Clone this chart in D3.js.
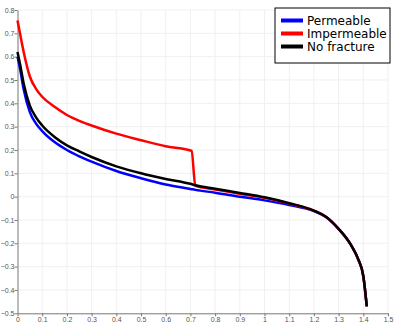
<!DOCTYPE html>
<html>
<head>
<meta charset="utf-8">
<script src="https://cdn.jsdelivr.net/npm/d3@7"></script>
<style>
  body { margin: 0; background: #fff; }
  svg { display: block; }
</style>
</head>
<body>
<div id="grafico"></div>
<script>
// datos
const seriesNames = ["Permeable", "Impermeable", "No fracture"];
const seriesColors = ["#0000ff", "#ff0000", "#000000"];

const xPermeable = [0, 0.01, 0.025, 0.05, 0.075, 0.1, 0.15, 0.2, 0.25, 0.3, 0.4, 0.5, 0.6, 0.7, 0.72, 0.8, 0.9, 1.0, 1.1, 1.2, 1.25, 1.3, 1.35, 1.38, 1.4, 1.414];
const yPermeable = [0.60, 0.55, 0.46, 0.362, 0.313, 0.281, 0.234, 0.200, 0.173, 0.150, 0.110, 0.079, 0.052, 0.033, 0.029, 0.017, 0.0, -0.016, -0.036, -0.062, -0.088, -0.138, -0.207, -0.27, -0.34, -0.47];

const xImpermeable = [0, 0.01, 0.025, 0.05, 0.075, 0.1, 0.15, 0.2, 0.25, 0.3, 0.4, 0.5, 0.6, 0.7, 0.705, 0.72, 0.8, 0.9, 1.0, 1.1, 1.2, 1.25, 1.3, 1.35, 1.38, 1.4, 1.414];
const yImpermeable = [0.755, 0.70, 0.62, 0.515, 0.462, 0.428, 0.385, 0.350, 0.325, 0.305, 0.270, 0.242, 0.216, 0.198, 0.196, 0.046, 0.031, 0.012, -0.005, -0.030, -0.060, -0.087, -0.138, -0.207, -0.27, -0.34, -0.47];

const xNoFracture = [0, 0.01, 0.025, 0.05, 0.075, 0.1, 0.15, 0.2, 0.25, 0.3, 0.4, 0.5, 0.6, 0.7, 0.72, 0.8, 0.9, 1.0, 1.1, 1.2, 1.25, 1.3, 1.35, 1.38, 1.4, 1.414];
const yNoFracture = [0.62, 0.57, 0.485, 0.39, 0.34, 0.305, 0.256, 0.220, 0.194, 0.170, 0.130, 0.100, 0.076, 0.055, 0.049, 0.034, 0.016, -0.003, -0.028, -0.060, -0.087, -0.138, -0.207, -0.27, -0.34, -0.47];

const xTicks = [0, 0.1, 0.2, 0.3, 0.4, 0.5, 0.6, 0.7, 0.8, 0.9, 1, 1.1, 1.2, 1.3, 1.4, 1.5];
const yTicks = [-0.5, -0.4, -0.3, -0.2, -0.1, 0, 0.1, 0.2, 0.3, 0.4, 0.5, 0.6, 0.7, 0.8];

const series = [
  {nombre: seriesNames[0], color: seriesColors[0], xs: xPermeable, ys: yPermeable},
  {nombre: seriesNames[1], color: seriesColors[1], xs: xImpermeable, ys: yImpermeable},
  {nombre: seriesNames[2], color: seriesColors[2], xs: xNoFracture, ys: yNoFracture}
];

const svg = d3.select("#grafico")
  .append("svg")
  .attr("width", 400)
  .attr("height", 325);

const x = d3.scaleLinear().domain([0, 1.5]).range([17.5, 388]);
const y = d3.scaleLinear().domain([-0.5, 0.8]).range([313.3, 10]);

// grilla
svg.append("g")
  .selectAll("line")
  .data(xTicks.slice(1))
  .join("line")
  .attr("x1", d => x(d)).attr("x2", d => x(d))
  .attr("y1", y(-0.5)).attr("y2", y(0.8))
  .attr("stroke", "#f0f0f0");

svg.append("g")
  .selectAll("line")
  .data(yTicks.slice(1))
  .join("line")
  .attr("x1", x(0)).attr("x2", x(1.5))
  .attr("y1", d => y(d)).attr("y2", d => y(d))
  .attr("stroke", "#f0f0f0");

// ejes
const ejeX = svg.append("g")
  .attr("transform", `translate(0,${y(-0.5)})`)
  .call(d3.axisBottom(x).tickValues(xTicks).tickSize(3).tickSizeOuter(0).tickFormat(d3.format("")));

const ejeY = svg.append("g")
  .attr("transform", `translate(${x(0)},0)`)
  .call(d3.axisLeft(y).tickValues(yTicks).tickSize(3).tickSizeOuter(0).tickFormat(d3.format("")));

[ejeX, ejeY].forEach(g => {
  g.select(".domain").attr("stroke", "#777");
  g.selectAll(".tick line").attr("stroke", "#777");
  g.selectAll("text")
    .attr("fill", "#555")
    .style("font-family", "Liberation Sans, Arial, sans-serif")
    .style("font-size", "7px");
});
ejeX.selectAll("text").attr("dy", "0.9em").attr("y", 2);
ejeY.selectAll("text").attr("x", -3);

// lineas
const linea = d3.line()
  .x(d => x(d[0]))
  .y(d => y(d[1]))
  .curve(d3.curveMonotoneX);

svg.append("g")
  .selectAll("path")
  .data(series)
  .join("path")
  .attr("d", s => linea(s.xs.map((v, i) => [v, s.ys[i]])))
  .attr("fill", "none")
  .attr("stroke", s => s.color)
  .attr("stroke-width", 2.5)
  .attr("stroke-linejoin", "round");

// leyenda
const leyenda = svg.append("g").attr("transform", "translate(275,8)");
leyenda.append("rect")
  .attr("width", 115).attr("height", 55)
  .attr("fill", "#fff").attr("stroke", "#000").attr("stroke-width", 1);

const filas = leyenda.selectAll("g")
  .data(series)
  .join("g")
  .attr("transform", (_, i) => `translate(0,${12.5 + i * 13})`);

filas.append("line")
  .attr("x1", 6).attr("x2", 28)
  .attr("stroke", d => d.color)
  .attr("stroke-width", 4);

filas.append("text")
  .attr("x", 32).attr("dy", "0.35em")
  .style("font-family", "DejaVu Sans, sans-serif")
  .style("font-size", "12px")
  .text(d => d.nombre);
</script>
</body>
</html>
